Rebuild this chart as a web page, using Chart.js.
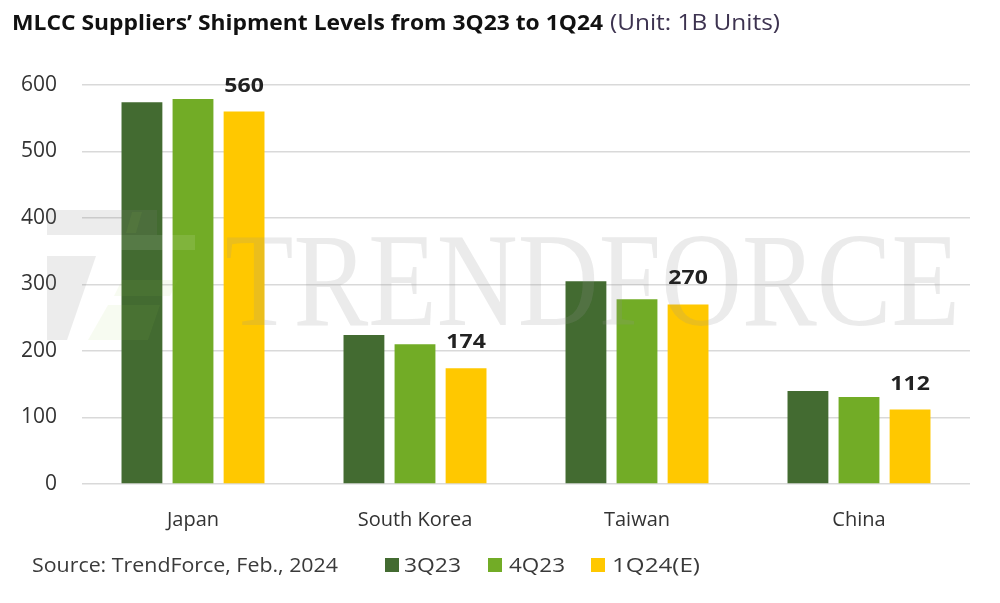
<!DOCTYPE html>
<html><head><meta charset="utf-8">
<script src="https://cdn.jsdelivr.net/npm/chart.js@4.4.0/dist/chart.umd.min.js"></script>
<style>html,body{margin:0;padding:0;background:#fff;} #wrap{width:1000px;height:603px;position:relative;}</style>
</head><body><div id="wrap"><canvas id="c" width="1000" height="603"></canvas></div>
<script>
// ---- data ----
const categories = ['Japan', 'South Korea', 'Taiwan', 'China'];
const seriesLabels = ['3Q23', '4Q23', '1Q24(E)'];
const q3_23 = [574, 224, 305, 140];
const q4_23 = [579, 210, 278, 131];
const q1_24e = [560, 174, 270, 112];
const yTicks = [0, 100, 200, 300, 400, 500, 600];
const titleBold = 'MLCC Suppliers’ Shipment Levels from 3Q23 to 1Q24';
const titleUnit = '(Unit: 1B Units)';
const sourceText = 'Source: TrendForce, Feb., 2024';
const watermarkText = 'TRENDFORCE';
const labelledSeriesIndex = 2;

// ---- styles ----
const seriesColors = ['#436B31', '#72AC26', '#FFC800'];
const FONT = '"Open Sans", "Liberation Sans", sans-serif';

function drawFit(ctx, text, x, y, w, font, color, align) {
  ctx.save();
  ctx.font = font;
  ctx.fillStyle = color;
  ctx.textBaseline = 'alphabetic';
  ctx.textAlign = 'left';
  const m = ctx.measureText(text).width;
  const sx = w / m;
  const left = align === 'center' ? x - w / 2 : x;
  ctx.translate(left, y);
  ctx.scale(sx, 1);
  ctx.fillText(text, 0, 0);
  ctx.restore();
}
function drawStretch(ctx, text, x, y, sx, font, color) {
  ctx.save();
  ctx.font = font;
  ctx.fillStyle = color;
  ctx.textBaseline = 'alphabetic';
  ctx.textAlign = 'left';
  const m = ctx.measureText(text).width * sx;
  ctx.translate(x - m / 2, y);
  ctx.scale(sx, 1);
  ctx.fillText(text, 0, 0);
  ctx.restore();
}

const watermarkPlugin = {
  id: 'watermark',
  afterDatasetsDraw(chart) {
    const ctx = chart.ctx;
    ctx.save();
    // logo-like shapes
    ctx.fillStyle = 'rgba(130,130,130,0.15)';
    ctx.fillRect(47, 210, 110, 25);
    ctx.beginPath();
    ctx.moveTo(47, 256); ctx.lineTo(96, 256); ctx.lineTo(67, 340); ctx.lineTo(47, 340); ctx.closePath();
    ctx.fill();
    ctx.fillStyle = 'rgba(150,200,80,0.08)';
    ctx.beginPath();
    ctx.moveTo(132, 212); ctx.lineTo(142, 212); ctx.lineTo(136, 233); ctx.lineTo(126, 233); ctx.closePath();
    ctx.fill();
    ctx.beginPath();
    ctx.moveTo(122, 280); ctx.lineTo(178, 280); ctx.lineTo(170, 296); ctx.lineTo(114, 296); ctx.closePath();
    ctx.fill();
    ctx.beginPath();
    ctx.moveTo(108, 305); ctx.lineTo(160, 305); ctx.lineTo(148, 340); ctx.lineTo(88, 340); ctx.closePath();
    ctx.fill();
    ctx.fillStyle = 'rgba(255,255,255,0.10)';
    ctx.fillRect(120, 235, 75, 15);
    // word mark
    ctx.font = '133px "Liberation Serif", "DejaVu Serif", serif';
    ctx.fillStyle = 'rgba(150,150,150,0.19)';
    ctx.textBaseline = 'alphabetic';
    const m = ctx.measureText(watermarkText).width;
    ctx.translate(225, 325);
    ctx.scale(735 / m, 1);
    ctx.fillText(watermarkText, 0, 0);
    ctx.restore();
  }
};

const textPlugin = {
  id: 'texts',
  afterDraw(chart) {
    const ctx = chart.ctx;
    // title
    drawFit(ctx, titleBold, 12, 30, 591, 'bold 21px ' + FONT, '#111111');
    drawFit(ctx, titleUnit, 610, 30, 170, '21px ' + FONT, '#3d3350');
    // source
    drawFit(ctx, sourceText, 32, 572, 306, '20px ' + FONT, '#3a3a3a');
    // legend
    const sqX = [385, 488, 591];
    const txX = [404, 509, 612];
    const txW = [57, 56, 88];
    chart.data.datasets.forEach((ds, i) => {
      ctx.fillStyle = ds.backgroundColor;
      ctx.fillRect(sqX[i], 558, 14, 14);
      drawFit(ctx, ds.label, txX[i], 572, txW[i], '20px ' + FONT, '#3a3a3a');
    });
    // value labels on 1Q24(E)
    const meta = chart.getDatasetMeta(labelledSeriesIndex);
    meta.data.forEach((bar, i) => {
      const v = chart.data.datasets[labelledSeriesIndex].data[i];
      drawStretch(ctx, String(v), bar.x, bar.y - 20, 1.15, 'bold 20px ' + FONT, '#222222');
    });
  }
};

new Chart(document.getElementById('c'), {
  type: 'bar',
  data: {
    labels: categories,
    datasets: [
      { label: seriesLabels[0], data: q3_23, backgroundColor: seriesColors[0] },
      { label: seriesLabels[1], data: q4_23, backgroundColor: seriesColors[1] },
      { label: seriesLabels[2], data: q1_24e, backgroundColor: seriesColors[2] }
    ]
  },
  options: {
    responsive: false,
    devicePixelRatio: 1,
    animation: false,
    layout: { padding: { top: 85, right: 30, left: 0, bottom: 0 } },
    datasets: { bar: { categoryPercentage: 0.69, barPercentage: 0.80 } },
    plugins: { legend: { display: false }, tooltip: { enabled: false }, title: { display: false } },
    scales: {
      x: {
        grid: { display: false },
        border: { display: false },
        ticks: { color: '#333333', font: { family: FONT, size: 20 }, padding: 16 },
        afterFit(s) { s.height = 119; }
      },
      y: {
        min: 0, max: 600,
        afterBuildTicks(s) { s.ticks = yTicks.map(v => ({ value: v })); },
        grid: { color: '#d9d9d9', lineWidth: 1.5, drawTicks: false },
        border: { display: false },
        ticks: { color: '#333333', font: { family: FONT, size: 21 }, padding: 25 },
        afterFit(s) { s.width = 82; }
      }
    }
  },
  plugins: [watermarkPlugin, textPlugin]
});
</script>
</body></html>
